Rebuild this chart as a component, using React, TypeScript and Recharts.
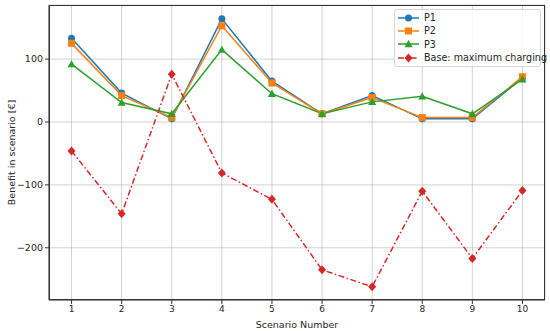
import type { ReactElement } from "react";
import {
  LineChart,
  Line,
  XAxis,
  YAxis,
  CartesianGrid,
} from "recharts";

const scenarios = [1, 2, 3, 4, 5, 6, 7, 8, 9, 10];
const p1 = [133, 46, 5, 164, 65, 13, 42, 5, 5, 70];
const p2 = [125, 42, 7, 153, 62, 13, 39, 7, 7, 72];
const p3 = [92, 31, 13, 115, 45, 13, 32, 41, 13, 68];
const base = [-46, -146, 76, -81, -123, -235, -262, -110, -217, -109];
const yTicks = [-200, -100, 0, 100];

const FONT = "'DejaVu Sans', sans-serif";
const TEXT = "#262626";

const data = scenarios.map((s, i) => ({
  x: s,
  p1: p1[i],
  p2: p2[i],
  p3: p3[i],
  base: base[i],
}));

type MarkerKind = "circle" | "square" | "triangle" | "diamond";

function Marker({ kind, cx, cy, color }: { kind: MarkerKind; cx: number; cy: number; color: string }): ReactElement {
  if (kind === "circle") return <circle cx={cx} cy={cy} r={3.5} fill={color} />;
  if (kind === "square") return <rect x={cx - 3.5} y={cy - 3.5} width={7} height={7} fill={color} />;
  if (kind === "triangle")
    return <polygon points={`${cx},${cy - 4} ${cx - 4},${cy + 3.2} ${cx + 4},${cy + 3.2}`} fill={color} />;
  return <polygon points={`${cx},${cy - 4.5} ${cx + 4},${cy} ${cx},${cy + 4.5} ${cx - 4},${cy}`} fill={color} />;
}

const SERIES: { key: string; name: string; color: string; marker: MarkerKind; dash?: string }[] = [
  { key: "p1", name: "P1", color: "#1f77b4", marker: "circle" },
  { key: "p2", name: "P2", color: "#ff7f0e", marker: "square" },
  { key: "p3", name: "P3", color: "#2ca02c", marker: "triangle" },
  { key: "base", name: "Base: maximum charging", color: "#d62728", marker: "diamond", dash: "6 2.5 1.5 2.5" },
];

function makeDot(kind: MarkerKind, color: string) {
  return (props: any) => (
    <Marker key={`${kind}-${props.index}`} kind={kind} cx={props.cx} cy={props.cy} color={color} />
  );
}

// matplotlib-style unicode minus
const fmt = (v: number) => (v < 0 ? `\u2212${Math.abs(v)}` : `${v}`);

export default function App(): ReactElement {
  return (
    <div style={{ position: "absolute", left: 0, top: 0, width: 550, height: 331, background: "#fff", fontFamily: FONT }}>
      <LineChart width={550} height={331} data={data} margin={{ top: 5, right: 5, left: 0, bottom: 0 }}>
        <CartesianGrid stroke="#b0b0b0" strokeWidth={0.8} strokeOpacity={0.7} />
        <XAxis
          dataKey="x"
          type="number"
          domain={[0.55, 10.45]}
          ticks={scenarios}
          height={31}
          tickSize={4}
          tick={{ fontSize: 9, fill: TEXT, fontFamily: FONT }}
          axisLine={{ stroke: "#333" }}
          tickLine={{ stroke: "#333" }}
          label={{ value: "Scenario Number", position: "insideBottom", offset: 3, fontSize: 9.5, fill: TEXT, fontFamily: FONT }}
        />
        <YAxis
          type="number"
          domain={[-283, 186]}
          ticks={yTicks}
          width={49}
          tickSize={4}
          tickFormatter={fmt}
          tick={{ fontSize: 9.5, fill: TEXT, fontFamily: FONT }}
          axisLine={{ stroke: "#333" }}
          tickLine={{ stroke: "#333" }}
          label={{
            content: (p: any) => {
              const vb = p.viewBox;
              const cx = vb.x + 11;
              const cy = vb.y + vb.height / 2;
              return (
                <text x={cx} y={cy} transform={`rotate(-90 ${cx} ${cy})`} textAnchor="middle" dominantBaseline="central" fontSize={9.5} fill={TEXT} fontFamily={FONT}>
                  Benefit in scenario [€]
                </text>
              );
            },
          }}
        />
        {SERIES.map((s) => (
          <Line
            key={s.key}
            dataKey={s.key}
            name={s.name}
            stroke={s.color}
            strokeWidth={1.5}
            strokeDasharray={s.dash}
            dot={makeDot(s.marker, s.color)}
            activeDot={false}
            isAnimationActive={false}
          />
        ))}
      </LineChart>
      <div
        style={{
          position: "absolute",
          left: 49,
          top: 5,
          width: 496,
          height: 295,
          border: "1px solid #333",
          boxSizing: "border-box",
          pointerEvents: "none",
        }}
      />
      <div
        style={{
          position: "absolute",
          left: 394,
          top: 9,
          width: 147,
          height: 58,
          border: "1px solid #d6d6d6",
          borderRadius: 3,
          background: "rgba(255,255,255,0.8)",
          boxSizing: "border-box",
          padding: "1px 0 0 2px",
        }}
      >
        {SERIES.map((s) => (
          <div key={s.key} style={{ display: "flex", alignItems: "center", height: 13.3 }}>
            <svg width={24} height={12} style={{ flex: "none" }}>
              <line x1={1} y1={6} x2={22} y2={6} stroke={s.color} strokeWidth={1.5} strokeDasharray={s.dash} />
              <Marker kind={s.marker} cx={11.5} cy={6} color={s.color} />
            </svg>
            <span style={{ fontSize: 9.6, color: TEXT, marginLeft: 3, whiteSpace: "nowrap" }}>{s.name}</span>
          </div>
        ))}
      </div>
    </div>
  );
}
